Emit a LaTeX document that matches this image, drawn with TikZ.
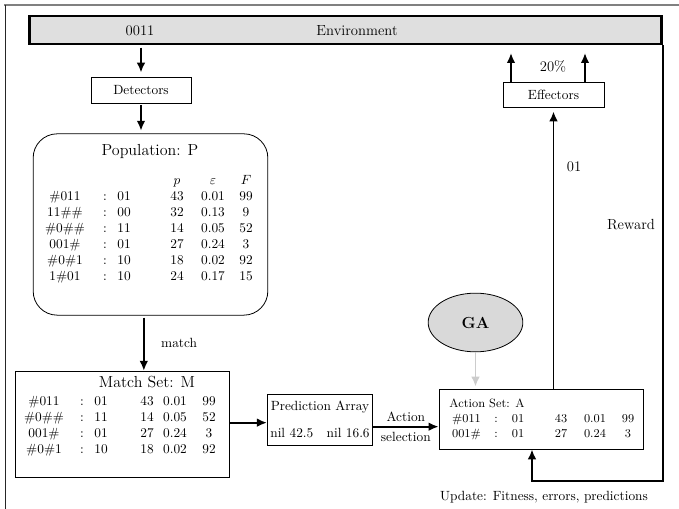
\documentclass[tikz,border=0pt]{standalone}
\usepackage{tikz}
\usetikzlibrary{arrows.meta, shapes.geometric, positioning}

% one column of a classifier table, rows spaced by #1
\newcommand{\cellcol}[2]{\renewcommand{\arraystretch}{#1}\begin{tabular}[t]{@{}c@{}}#2\end{tabular}}

\begin{document}
\begin{tikzpicture}[
            x = 0.75pt, y = -0.75pt, % pixel grid of the reference
            > = {Latex[length = 7.5pt, width = 6.5pt]}, % arrow head style
            semithick % line style
        ]

        \tikzstyle{box}=[
            draw = black,
            fill = white,
            inner sep = 0pt
        ]
        \tikzstyle{col}=[anchor = base, inner sep = 0pt]
        \tikzstyle{lbl}=[font = \fontsize{11pt}{13pt}\selectfont]
        \tikzstyle{flow}=[->, line width = 1.4pt]

        \useasboundingbox (0,0) rectangle (679,509);
        \draw[gray, line width = 0.8pt] (4,5) -- (679,5);
        \draw[black!85, line width = 0.8pt] (5.5,5) -- (5.5,509);

        % environment bar
        \node[box, fill = gray!25, line width = 1.6pt, minimum width = 474pt, minimum height = 21pt] (env) at (345.5,30) {};
        \node[lbl] (inp) at (140,31) {0011};
        \node[lbl] (envlbl) at (357,31) {Environment};

        \node[box, minimum width = 75pt, minimum height = 19.5pt] (det) at (141,90) {Detectors};
        \node[box, minimum width = 75.75pt, minimum height = 18.75pt] (eff) at (553.5,94.5) {Effectors};

        % population
        \node[box, rounded corners = 18pt, minimum width = 176pt, minimum height = 136pt] (pop) at (150.5,224.5) {};
        \node[font = \large] (poptitle) at (150,152) {Population: P};
        \node[col] (pcond) at (65,201) {\cellcol{1}{\#011\\11\#\#\\\#0\#\#\\001\#\\\#0\#1\\1\#01}};
        \node[col] (psep) at (105,201) {\cellcol{1}{:\\:\\:\\:\\:\\:}};
        \node[col] (pact) at (124,201) {\cellcol{1}{01\\00\\11\\01\\10\\10}};
        \node[col] (ppred) at (177,185) {\cellcol{1}{$p$\\43\\32\\14\\27\\18\\24}};
        \node[col] (perr) at (213,185) {\cellcol{1}{$\varepsilon$\\0.01\\0.13\\0.05\\0.24\\0.02\\0.17}};
        \node[col] (pfit) at (246,185) {\cellcol{1}{$F$\\99\\9\\52\\3\\92\\15}};

        % match set
        \node[box, minimum width = 160.5pt, minimum height = 80pt] (mset) at (122,424.5) {};
        \node[font = \large] (mtitle) at (147,382) {Match Set: M};
        \node[col] (mcond) at (44,405.5) {\cellcol{1}{\#011\\\#0\#\#\\001\#\\\#0\#1}};
        \node[col] (msep) at (82,405.5) {\cellcol{1}{:\\:\\:\\:}};
        \node[col] (mact) at (101,405.5) {\cellcol{1}{01\\11\\01\\10}};
        \node[col] (mpred) at (147,405.5) {\cellcol{1}{43\\14\\27\\18}};
        \node[col] (merr) at (175,405.5) {\cellcol{1}{0.01\\0.05\\0.24\\0.02}};
        \node[col] (mfit) at (209,405.5) {\cellcol{1}{99\\52\\3\\92}};

        % prediction array
        \node[box, minimum width = 79pt, minimum height = 38.5pt] (pa) at (320,420) {};
        \node (patitle) at (320,407) {Prediction Array};
        \node (paval) at (320,433) {nil 42.5\quad nil 16.6};

        % action set
        \node[box, minimum width = 153pt, minimum height = 45pt] (aset) at (541,419) {};
        \node[font = \small] (atitle) at (487,403) {Action Set: A};
        \node[col, font = \small] (acond) at (466.5,423) {\cellcol{1}{\#011\\001\#}};
        \node[col, font = \small] (asep) at (496,423) {\cellcol{1}{:\\:}};
        \node[col, font = \small] (aact) at (518,423) {\cellcol{1}{01\\01}};
        \node[col, font = \small] (apred) at (561,423) {\cellcol{1}{43\\27}};
        \node[col, font = \small] (aerr) at (595,423) {\cellcol{1}{0.01\\0.24}};
        \node[col, font = \small] (afit) at (628,423) {\cellcol{1}{99\\3}};

        \node[ellipse, draw = black, fill = gray!30, minimum width = 71pt, minimum height = 44pt, font = \large\bfseries] (ga) at (475.5,322.5) {GA};

        \coordinate (outl) at (511,53);
        \coordinate (outr) at (585,53);
        \coordinate (upd) at (532,481);

        \node[lbl] (pct) at (553,66) {20\%};
        \node[lbl] (act01) at (574,167) {01};
        \node[lbl] (rwd) at (631,225) {Reward};
        \node (updlbl) at (544,497) {Update: Fitness, errors, predictions};

        \draw[flow, shorten <= 2pt, shorten >= 3pt] (env.south -| det.north) -- (det.north);
        \draw[flow, shorten <= 1.5pt, shorten >= 2pt] (det.south) -- (det.south |- pop.north);
        \draw[flow, shorten <= 1.5pt] ([xshift = -5pt]pop.south) -- node[right = 9pt] {match} ([xshift = -5pt]pop.south |- mset.north);
        \draw[flow] ([yshift = -2pt]pa.west -| mset.east) -- ([yshift = -2pt]pa.west);
        \draw[flow] ([yshift = -5pt]pa.east) -- node[above] {Action} node[below] {selection} ([yshift = -5pt]pa.east -| aset.west);
        \draw[flow, gray!40, shorten >= 1.5pt] (ga) -- (ga |- aset.north);
        \draw[flow, shorten >= 3pt] (eff |- aset.north) -- (eff.south);
        \draw[flow] (eff.north -| outl) -- (outl);
        \draw[flow] (eff.north -| outr) -- (outr);
        \draw[flow] (env.south east) |- (upd) -- (upd |- aset.south);

    \end{tikzpicture}
\end{document}
